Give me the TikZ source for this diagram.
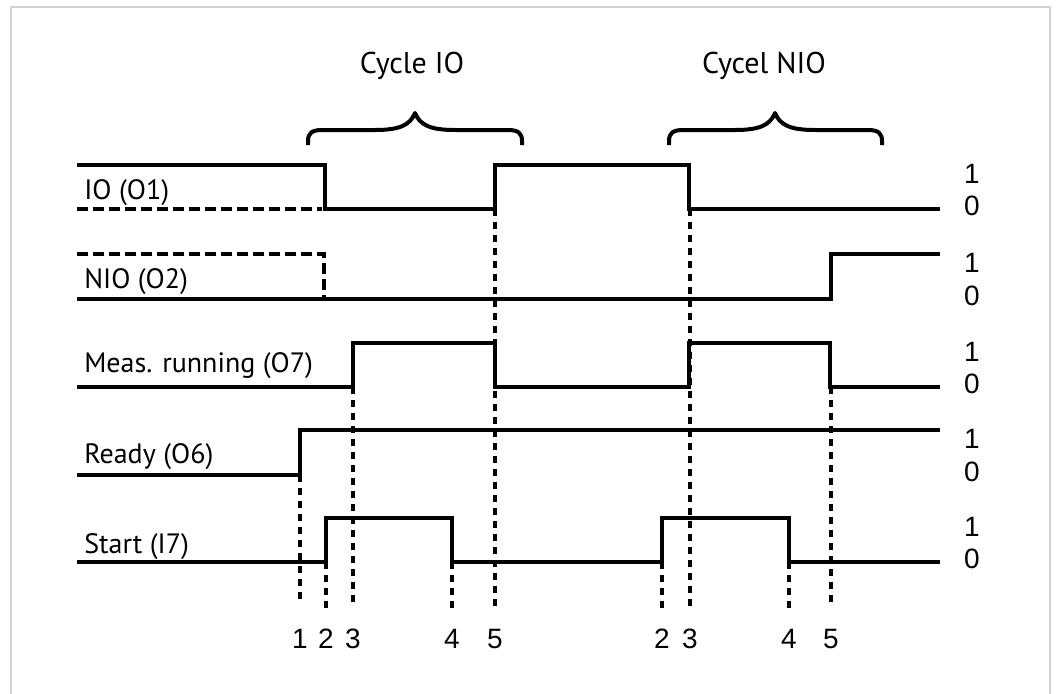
\documentclass[tikz,border=0pt]{standalone}
\usepackage{fontspec}
\setmainfont{PT Sans}
\newfontfamily\arialf{Liberation Sans}
\begin{document}
\begin{tikzpicture}[x=0.75pt,y=-0.75pt,
  sig/.style={line width=3pt, line join=miter},
  ghost/.style={line width=3pt, dash pattern=on 8.25pt off 3.75pt},
  guide/.style={line width=3pt, dash pattern=on 5.25pt off 4.5pt},
  lbl/.style={font=\fontsize{21}{23}\selectfont, anchor=base west, inner sep=0pt},
  lvl/.style={font=\arialf\fontsize{21}{23}\selectfont, inner sep=0pt},
  ttl/.style={font=\fontsize{22.5}{24}\selectfont, anchor=base, inner sep=0pt},
  bracestyle/.style={line width=3pt, line join=round}]
\useasboundingbox (0,0) rectangle (1056,693);
\draw[black!18, line width=1.5pt] (11,700) -- (11,7) -- (1050,7) -- (1050,700);

% titles and braces
\node[ttl] (tio) at (412,73) {Cycle IO};
\node[ttl] (tnio) at (764,73) {Cycel NIO};
\draw[bracestyle] (308,145) -- (308,141) .. controls (308,133) and (312,130) .. (322,130) -- (375,130)
  .. controls (400,130) and (410,125) .. (415,113)
  .. controls (420,125) and (430,130) .. (455,130) -- (508,130)
  .. controls (518,130) and (522,133) .. (522,141) -- (522,145);
\draw[bracestyle] (669,145) -- (669,141) .. controls (669,133) and (673,130) .. (683,130) -- (735,130)
  .. controls (760,130) and (770,125) .. (775,113)
  .. controls (780,125) and (790,130) .. (815,130) -- (868,130)
  .. controls (878,130) and (882,133) .. (882,141) -- (882,145);

% signal labels
\node[lbl] (lio) at (84,199) {IO (O1)};
\node[lbl] (lnio) at (84,288) {NIO (O2)};
\node[lbl] (lmeas) at (84,372) {Meas. running (O7)};
\node[lbl] (lready) at (84,463) {Ready (O6)};
\node[lbl] (lstart) at (84,553) {Start (I7)};

% level labels
\foreach \hi/\lo [count=\i] in {165/209, 254/299, 343/387, 430/475, 518/562}{
  \node[lvl] (one\i) at (972,\hi+9) {1};
  \node[lvl] (zero\i) at (972,\lo-3) {0};
}

% waveforms
\draw[sig] (77,165) -- (325,165) -- (325,209) -- (495,209) -- (495,165) -- (689,165) -- (689,209) -- (940,209);
\draw[ghost] (77,209) -- (322,209);
\draw[ghost] (77,254) -- (324,254) -- (324,299);
\draw[sig] (77,299) -- (831,299) -- (831,254) -- (940,254);
\draw[sig] (77,387) -- (353,387) -- (353,343) -- (495,343) -- (495,387) -- (689,387) -- (689,343) -- (830,343) -- (830,387) -- (940,387);
\draw[sig] (77,475) -- (300,475) -- (300,430) -- (940,430);
\draw[sig] (77,562) -- (326,562) -- (326,518) -- (452,518) -- (452,562) -- (662,562) -- (662,518) -- (789,518) -- (789,562) -- (940,562);

% guide lines
\draw[guide] (300,475) -- (300,604);
\draw[guide] (326,562) -- (326,608);
\draw[guide] (353,387) -- (353,608);
\draw[guide] (452,562) -- (452,608);
\draw[guide] (495,209) -- (495,608);
\draw[guide] (662,562) -- (662,608);
\draw[guide] (690,209) -- (690,608);
\draw[guide] (789,562) -- (789,608);
\draw[guide] (831,387) -- (831,608);

% time marks
\foreach \x/\t [count=\i] in {300/1, 326/2, 353/3, 452/4, 495/5, 662/2, 690/3, 789/4, 831/5}{
  \node[lvl] (tm\i) at (\x,639) {\t};
}
\end{tikzpicture}
\end{document}
